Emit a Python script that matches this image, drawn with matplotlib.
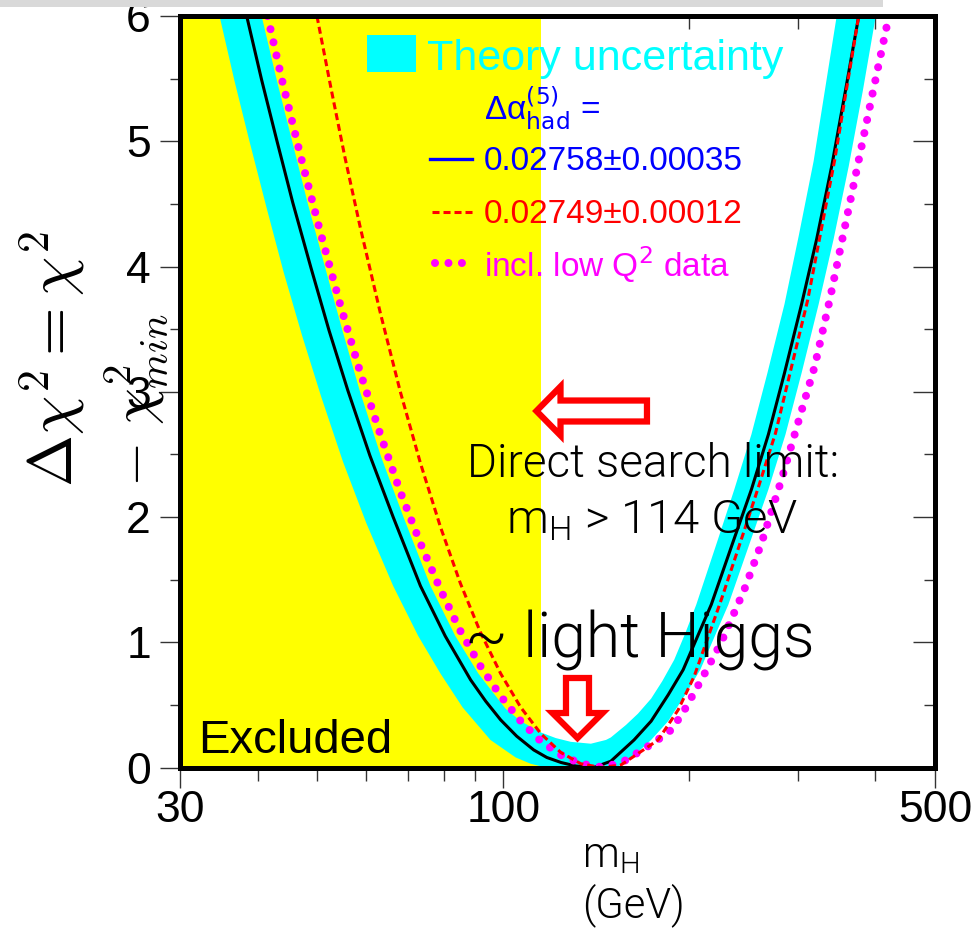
import matplotlib
matplotlib.use("Agg")
import matplotlib.pyplot as plt
from matplotlib.patches import Rectangle, FancyArrow, Polygon
from matplotlib.lines import Line2D
from matplotlib.ticker import NullFormatter

plt.rcParams['font.family'] = ['Liberation Sans', 'DejaVu Sans']
plt.rcParams['mathtext.fontset'] = 'custom'
plt.rcParams['mathtext.rm'] = 'Roboto:weight=300'
plt.rcParams['mathtext.it'] = 'Roboto:italic:weight=300'

# black fit curve, Delta alpha_had = 0.02758
mh_fit = [38.4, 40.6, 43.0, 45.6, 48.8, 52.2, 56.0, 60.8, 66.3, 73.4,
          80.5, 88.5, 93.6, 99.0, 105.1, 112.0, 117.6, 124.0, 131.0, 140.0,
          149.3, 162.8, 173.5, 184.9, 195.5, 206.0, 217.1, 236.6, 252.2, 268.7,
          285.3, 304.1, 321.7, 340.2, 358.0, 376.3]
dchi2_fit = [6.0, 5.49, 5.0, 4.51, 3.99, 3.49, 3.01, 2.49, 2.0, 1.45,
             1.05, 0.70, 0.53, 0.38, 0.25, 0.14, 0.08, 0.04, 0.012, 0.0,
             0.05, 0.22, 0.37, 0.58, 0.78, 1.04, 1.30, 1.83, 2.22, 2.66,
             3.15, 3.70, 4.22, 4.80, 5.40, 6.0]

# red dashed, Delta alpha_had = 0.02749
mh_red = [49.9, 52.6, 55.4, 58.6, 63.2, 68.1, 73.4, 79.1, 85.2, 91.8,
          99.0, 106.7, 115.0, 123.9, 133.5, 143.9, 155.0, 162.8, 178.1, 191.9,
          203.8, 225.4, 244.7, 258.9, 275.9, 292.9, 311.0, 344.0, 376.3]
dchi2_red = [6.0, 5.42, 4.87, 4.32, 3.63, 3.0, 2.43, 1.92, 1.47, 1.08,
             0.75, 0.48, 0.27, 0.12, 0.03, 0.0, 0.02, 0.09, 0.22, 0.46,
             0.73, 1.34, 1.87, 2.24, 2.67, 3.2, 3.73, 4.85, 6.0]

# magenta dotted, incl. low Q^2 data
mh_low = [41.5, 43.9, 46.8, 50.5, 54.4, 58.6, 63.2, 68.1, 73.4, 79.1,
          85.2, 91.8, 99.0, 106.7, 115.0, 123.9, 133.5, 145.5, 156.8, 175.5,
          187.0, 195.5, 209.2, 225.4, 245.6, 261.8, 282.2, 304.1, 319.2, 337.6,
          366.6, 395.0, 421.1]
dchi2_low = [6.0, 5.47, 4.91, 4.28, 3.70, 3.16, 2.66, 2.20, 1.79, 1.42,
             1.09, 0.81, 0.57, 0.37, 0.21, 0.10, 0.03, 0.0, 0.05, 0.2,
             0.3, 0.44, 0.7, 1.0, 1.42, 1.79, 2.3, 2.85, 3.2, 3.73,
             4.58, 5.35, 6.0]

# theory uncertainty band: lower edge and upper edge
band_lo_m = [34.7, 36.7, 38.8, 41.4, 44.1, 47.2, 50.7, 55.0, 60.0, 66.3,
             72.8, 79.1, 85.9, 95.3, 104.7, 110.7, 117.1, 152.2, 159.2, 173.5,
             184.9, 197.0, 208.4, 219.6, 231.4, 252.2, 268.7, 286.4, 304.1, 324.1,
             342.7, 362.5, 382.0, 401.0]
band_lo = [6.0, 5.48, 5.0, 4.46, 3.95, 3.45, 2.96, 2.44, 1.95, 1.45,
           1.05, 0.75, 0.48, 0.22, 0.08, 0.03, 0.0, 0.0, 0.05, 0.22,
           0.37, 0.58, 0.78, 1.04, 1.30, 1.83, 2.22, 2.66, 3.15, 3.70,
           4.22, 4.80, 5.40, 6.0]
band_hi_m = [40.6, 43.0, 45.5, 48.3, 51.4, 54.8, 58.6, 63.4, 68.9, 76.2,
             83.6, 91.1, 100.8, 106.7, 115.0, 121.6, 128.6, 138.6, 146.6, 149.3,
             158.0, 165.2, 173.5, 180.9, 189.1, 197.0, 205.3, 222.9, 236.6, 252.2,
             267.7, 285.3, 300.7, 318.0, 346.6]
band_hi = [6.0, 5.48, 5.0, 4.49, 4.0, 3.5, 3.0, 2.48, 2.0, 1.45,
           1.05, 0.75, 0.47, 0.37, 0.28, 0.235, 0.205, 0.19, 0.22, 0.24,
           0.34, 0.43, 0.55, 0.69, 0.86, 1.07, 1.30, 1.83, 2.22, 2.66,
           3.15, 3.70, 4.24, 4.84, 6.0]

excluded_below = 115
x_major = [30, 100, 500]
x_minor = [40, 50, 60, 70, 80, 90, 200, 300, 400]
y_major = [0, 1, 2, 3, 4, 5, 6]
y_minor = [0.5, 1.5, 2.5, 3.5, 4.5, 5.5]

light = dict(family=['Roboto', 'DejaVu Sans'], weight=300)

fig = plt.figure(figsize=(9.73, 9.32), dpi=100)
ax = fig.add_axes([0.1855, 0.1765, 0.7754, 0.8063])
ax.set_xscale('log')
ax.set_xlim(30, 500)
ax.set_ylim(0, 6)

ax.axvspan(30, excluded_below, color='#FFFF00', lw=0, zorder=3)
band = Polygon(list(zip(band_lo_m, band_lo)) + list(zip(band_hi_m[::-1], band_hi[::-1])),
               closed=True, fc='#00FFFF', ec='none', zorder=3.2)
ax.add_patch(band)
ax.plot(mh_fit, dchi2_fit, color='black', lw=2.2, zorder=4)
mag, = ax.plot(mh_low, dchi2_low, color='#FF00FF', lw=5.8, zorder=4.1,
               dash_capstyle='round')
mag.set_dashes([0.001, 1.67])
ax.plot(mh_red, dchi2_red, color='#FF0000', lw=2.2, dashes=(2.3, 1.3), zorder=4.2)

# ticks
ax.set_xticks(x_major)
ax.set_xticklabels([str(v) for v in x_major])
ax.set_xticks(x_minor, minor=True)
ax.xaxis.set_minor_formatter(NullFormatter())
ax.set_yticks(y_major)
ax.set_yticks(y_minor, minor=True)
ax.tick_params(which='both', direction='out', width=1.0, color='#333333',
               top=False, right=False, labelsize=32)
ax.tick_params(axis='x', which='major', length=14.4, pad=2)
ax.tick_params(axis='x', which='minor', length=9)
ax.tick_params(axis='y', which='major', length=14.4, pad=7)
ax.tick_params(axis='y', which='minor', length=7.2)
for s in ax.spines.values():
    s.set_linewidth(3.6)
    s.set_zorder(10)

secx = ax.secondary_xaxis('top')
secx.set_xticks(x_major)
secx.set_xticks(x_minor, minor=True)
secx.xaxis.set_major_formatter(NullFormatter())
secx.xaxis.set_minor_formatter(NullFormatter())
secx.tick_params(which='both', direction='in', width=1.0, color='#333333')
secx.tick_params(which='major', length=14.4)
secx.tick_params(which='minor', length=9)
secx.spines['top'].set_visible(False)

secy = ax.secondary_yaxis('right')
secy.set_yticks(y_major)
secy.set_yticks(y_minor, minor=True)
secy.yaxis.set_major_formatter(NullFormatter())
secy.tick_params(which='both', direction='in', width=1.0, color='#333333')
secy.tick_params(which='major', length=16)
secy.tick_params(which='minor', length=8)
secy.spines['right'].set_visible(False)

# legend block
ax.add_patch(Rectangle((0.2472, 0.9255), 0.065, 0.0492, transform=ax.transAxes,
                       fc='#00FFFF', ec='none', zorder=6))
ax.text(0.3267, 0.9281, 'Theory uncertainty', transform=ax.transAxes,
        color='#00FFFF', fontsize=31, va='baseline', zorder=6)
ax.text(0.4022, 0.8616, '\u0394\u03b1$^{(5)}_{\\rm had}$ =', transform=ax.transAxes,
        color='#0000FF', fontsize=24, va='baseline', zorder=6, math_fontfamily='dejavusans')
ax.text(0.4022, 0.7951, '0.02758\u00b10.00035', transform=ax.transAxes,
        color='#0000FF', fontsize=24, va='baseline', zorder=6)
ax.text(0.4022, 0.7246, '0.02749\u00b10.00012', transform=ax.transAxes,
        color='#FF0000', fontsize=24, va='baseline', zorder=6)
ax.text(0.4022, 0.6527, r'incl. low Q$^2$ data', transform=ax.transAxes,
        color='#FF00FF', fontsize=24, va='baseline', zorder=6, math_fontfamily='dejavusans')
ax.add_line(Line2D([0.3307, 0.3863], [0.8097, 0.8097], transform=ax.transAxes,
                   color='#0000FF', lw=2.4, zorder=6))
ax.add_line(Line2D([0.3333, 0.3877], [0.7396, 0.7396], transform=ax.transAxes,
                   color='#FF0000', lw=2.2, dashes=(2.3, 1.3), zorder=6))
leg_dots = Line2D([0.3373, 0.3744], [0.6713, 0.6713], transform=ax.transAxes,
                  color='#FF00FF', lw=5.8, dash_capstyle='round', zorder=6)
leg_dots.set_dashes([0.001, 1.67])
ax.add_line(leg_dots)

ax.text(0.0232, 0.0193, 'Excluded', transform=ax.transAxes, fontsize=34,
        va='baseline', zorder=6)

# annotations
ax.text(0.6262, 0.3866, 'Direct search limit:', transform=ax.transAxes, fontsize=33,
        ha='center', va='baseline', zorder=7, **light)
ax.text(0.6249, 0.3120, r'm$_{\rm H}$ > 114 GeV', transform=ax.transAxes, fontsize=34,
        ha='center', va='baseline', zorder=7, math_fontfamily='custom', **light)
ax.text(0.3771, 0.1470, '~ light Higgs', transform=ax.transAxes, fontsize=45,
        va='baseline', zorder=7, **light)

ax.add_patch(FancyArrow(0.6183, 0.4744, -0.1465, 0, width=0.0279, head_width=0.0651,
                        head_length=0.0319, length_includes_head=True,
                        transform=ax.transAxes, fc='white', ec='#FF0000', lw=4.5,
                        joinstyle='miter', zorder=8))
ax.add_patch(FancyArrow(0.5262, 0.1191, 0, -0.0798, width=0.0305, head_width=0.0664,
                        head_length=0.0332, length_includes_head=True,
                        transform=ax.transAxes, fc='white', ec='#FF0000', lw=4.5,
                        joinstyle='miter', zorder=8))

# axis titles
fig.text(0.598, 0.0697, r'm$_{\rm H}$', fontsize=30, va='baseline',
         math_fontfamily='custom', **light)
fig.text(0.598, 0.0161, '(GeV)', fontsize=30, va='baseline', **light)
fig.text(0.0545, 0.4775, r'$\Delta\chi^2 = \chi^2$', rotation=90, ha='center',
         va='bottom', fontsize=45, math_fontfamily='cm')
fig.text(0.1398, 0.4775, r'$-\ \chi^2_{min}$', rotation=90, ha='center',
         va='bottom', fontsize=42, math_fontfamily='cm')

fig.add_artist(Rectangle((0, 1 - 7 / 932), 883 / 973, 7 / 932, transform=fig.transFigure,
                         fc='#D9D9D9', ec='none', zorder=20))

fig.savefig('out.png', dpi=100)
